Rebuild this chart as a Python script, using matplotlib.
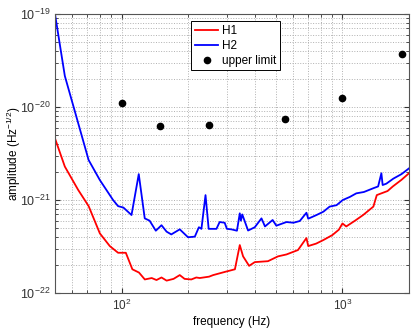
import matplotlib
matplotlib.use('Agg')
from matplotlib import pyplot as plt

plt.rcParams['font.family'] = ['Liberation Sans', 'DejaVu Sans']
plt.rcParams['mathtext.fontset'] = 'custom'
plt.rcParams['mathtext.rm'] = 'Liberation Sans'
plt.rcParams['mathtext.it'] = 'Liberation Sans'

# H2 noise curve (blue)
h2_f = [50, 55.4, 71, 79.8, 91.6, 96.5, 102, 111, 119.7, 127.4, 134, 143, 151.7, 160,
        168, 183.5, 200, 214.7, 224, 230, 240, 248, 269, 278, 293, 300, 314, 333,
        343, 347, 352, 374, 401, 430, 446, 483, 502, 558, 600, 641, 687, 700, 763,
        820, 875, 940, 1003, 1080, 1155, 1250, 1380, 1450, 1500, 1520, 1580, 1700,
        1850, 2000]
h2_a = [1.0e-19, 2.16e-20, 2.69e-21, 1.64e-21, 1.0e-21, 8.6e-22, 8.3e-22, 6.9e-22,
        1.9e-21, 6.35e-22, 6.0e-22, 4.68e-22, 5.36e-22, 4.57e-22, 4.27e-22, 4.84e-22,
        3.98e-22, 4.04e-22, 5.1e-22, 4.9e-22, 1.13e-21, 4.9e-22, 4.9e-22, 5.8e-22,
        5.7e-22, 4.9e-22, 4.84e-22, 4.68e-22, 7.2e-22, 6.0e-22, 7.0e-22, 4.7e-22,
        5.1e-22, 6.35e-22, 5.2e-22, 6.1e-22, 5.3e-22, 5.8e-22, 5.7e-22, 5.95e-22,
        7.3e-22, 6.3e-22, 6.9e-22, 7.5e-22, 8.5e-22, 8.8e-22, 1.0e-21, 1.08e-21,
        1.18e-21, 1.22e-21, 1.34e-21, 1.4e-21, 1.94e-21, 1.45e-21, 1.5e-21, 1.7e-21,
        1.9e-21, 2.19e-21]

# H1 noise curve (red)
h1_f = [50, 55.4, 63.6, 71, 79.8, 88.5, 96.5, 104.6, 112, 120, 127.5, 137, 144,
        151.7, 160, 172, 183.5, 193, 207, 218, 226, 249, 260, 297, 326, 343, 355,
        378, 401, 460, 511, 558, 629, 687, 700, 760, 817, 900, 963, 1000, 1040,
        1140, 1240, 1380, 1430, 1500, 1600, 1690, 1850, 2000]
h1_a = [4.6e-21, 2.29e-21, 1.29e-21, 8.6e-22, 4.38e-22, 3.2e-22, 2.71e-22, 2.71e-22,
        1.8e-22, 1.66e-22, 1.4e-22, 1.45e-22, 1.38e-22, 1.47e-22, 1.36e-22, 1.42e-22,
        1.56e-22, 1.42e-22, 1.4e-22, 1.47e-22, 1.45e-22, 1.5e-22, 1.56e-22, 1.7e-22,
        1.8e-22, 3.28e-22, 2.48e-22, 1.96e-22, 2.15e-22, 2.2e-22, 2.48e-22, 2.6e-22,
        2.9e-22, 3.9e-22, 3.2e-22, 3.4e-22, 3.7e-22, 4.2e-22, 4.8e-22, 5.6e-22,
        5.2e-22, 6.0e-22, 6.9e-22, 8.5e-22, 1.13e-21, 1.18e-21, 1.25e-21, 1.4e-21,
        1.65e-21, 1.94e-21]

# upper limits
ul_f = [100, 150, 250, 550, 1000, 1850]
ul_a = [1.1e-20, 6.25e-21, 6.45e-21, 7.5e-21, 1.26e-20, 3.74e-20]

xticks = [100, 1000]
yticks = [1e-22, 1e-21, 1e-20, 1e-19]

fig = plt.figure(figsize=(4.15, 3.3), dpi=100)
ax = fig.add_axes([0.1325, 0.112, 0.853, 0.8455])

ax.loglog(h1_f, h1_a, color='red', lw=1.3, label='H1')
ax.loglog(h2_f, h2_a, color='blue', lw=1.3, label='H2')
ax.loglog(ul_f, ul_a, 'k.', ms=9, label='upper limit')

ax.set_xlim(50, 2000)
ax.set_ylim(1e-22, 1e-19)
ax.set_xticks(xticks)
ax.set_yticks(yticks)
ax.set_xlabel('frequency (Hz)', fontsize=8.5, va='center')
ax.set_ylabel('amplitude (Hz$^{-1/2}$)', fontsize=8.5, va='center')
ax.xaxis.set_label_coords(0.5, -0.103)
ax.yaxis.set_label_coords(-0.115, 0.5)

ax.grid(True, which='both', linestyle=':', color='#b0b0b0', lw=0.7)
ax.tick_params(which='both', direction='in', top=True, right=True, colors='#333333')
ax.tick_params(axis='x', labelsize=8.5)
ax.tick_params(axis='y', labelsize=9)
for s in ax.spines.values():
    s.set_color('#555555')

leg = ax.legend(loc='upper left', bbox_to_anchor=(0.368, 0.995), fontsize=8.5,
                handlelength=2.0, handletextpad=0.3, borderpad=0.3,
                labelspacing=0.25, fancybox=False, framealpha=1)
leg.get_frame().set_edgecolor('black')
leg.get_frame().set_linewidth(0.7)

plt.savefig('out.png', dpi=100)
